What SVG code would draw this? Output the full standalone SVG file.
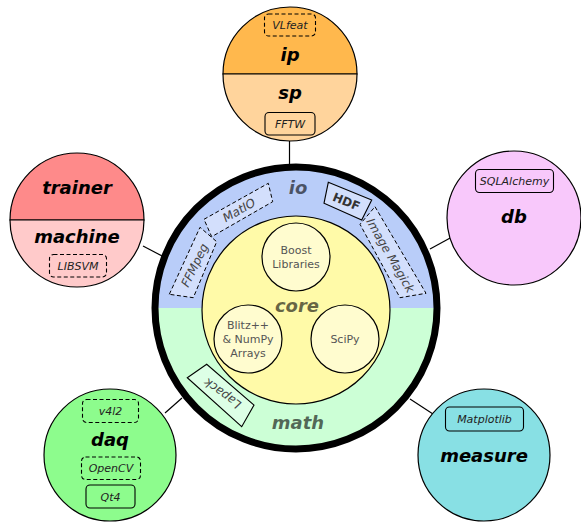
<svg xmlns="http://www.w3.org/2000/svg" width="581" height="522" viewBox="0 0 581 522">
<style>
.n{stroke:#000;stroke-width:1.2}
.t{font-family:"DejaVu Sans",sans-serif;font-weight:bold;font-style:italic;font-size:18px;text-anchor:middle;fill:#000}
.rl{font-family:"DejaVu Sans",sans-serif;font-weight:bold;font-style:italic;font-size:18px;text-anchor:middle;fill:#000;fill-opacity:0.6}
.lib{font-family:"DejaVu Sans",sans-serif;font-style:italic;font-size:11px;text-anchor:middle;fill:#222}
.rlib{font-family:"DejaVu Sans",sans-serif;font-style:italic;font-size:12px;text-anchor:middle;fill:#444}
.hdf{font-family:"DejaVu Sans",sans-serif;font-weight:bold;font-size:12px;text-anchor:middle;fill:#333}
.in{font-family:"DejaVu Sans",sans-serif;font-size:11px;text-anchor:middle;fill:#555}
.bs{fill:none;stroke:#000;stroke-width:1.1}
.bd{fill:none;stroke:#000;stroke-width:1.1;stroke-dasharray:4 2.5}
.ioBox{fill:#d3dffc;stroke:#000;stroke-width:1;stroke-dasharray:4 2.5}
.c{stroke:#000;stroke-width:1.2}
</style>
<g id="connectors">
<line class="c" x1="289.5" y1="141" x2="289.5" y2="166"/>
<line class="c" x1="143" y1="246" x2="164" y2="257"/>
<line class="c" x1="430" y1="249" x2="452" y2="237"/>
<line class="c" x1="410" y1="399" x2="433" y2="414"/>
<line class="c" x1="165" y1="413" x2="182" y2="398"/>
</g>
<g id="center">
<path d="M155,308 A141,141 0 0 1 437,308 Z" fill="#b9cdf9"/>
<path d="M155,308 A141,141 0 0 0 437,308 Z" fill="#ccffd6"/>
<circle cx="296" cy="310" r="94" fill="#fffaa8" class="n"/>
<circle cx="296" cy="257" r="34" fill="#fffccf" class="n"/>
<circle cx="248" cy="339" r="34" fill="#fffccf" class="n"/>
<circle cx="345" cy="339" r="34" fill="#fffccf" class="n"/>
<text class="in" x="296" y="254">Boost</text>
<text class="in" x="296" y="268">Libraries</text>
<text class="in" x="248" y="329">Blitz++</text>
<text class="in" x="248" y="343">&amp; NumPy</text>
<text class="in" x="248" y="357">Arrays</text>
<text class="in" x="345" y="343">SciPy</text>
<text class="rl" x="298" y="194">io</text>
<text class="rl" x="297" y="312">core</text>
<text class="rl" x="298" y="429">math</text>
<polygon class="ioBox" points="169.3,294.3 200,227.3 216.7,241.7 193.3,297.7"/>
<text class="rlib" transform="translate(194.8,265.3) rotate(-64)" y="4">FFMpeg</text>
<polygon class="ioBox" points="204,219.3 268.3,183.3 272.7,201.7 211.7,236.7"/>
<text class="rlib" transform="translate(239.2,210.3) rotate(-30)" y="4">MatIO</text>
<polygon points="328.3,182.3 371.7,200 361.7,220 324,203.3" fill="#d3dffc" stroke="#000" stroke-width="1.1"/>
<text class="hdf" transform="translate(346.4,201.4) rotate(22)" y="4.5">HDF</text>
<polygon class="ioBox" points="375,206.7 426,293.3 400,297.7 360,224.3"/>
<text class="rlib" transform="translate(390.3,255.5) rotate(60)" y="4">Image Magick</text>
<polygon points="187.3,377.7 206.7,364.3 254,405 241.7,426.7" fill="#ddffe6" stroke="#000" stroke-width="1.1"/>
<text class="rlib" transform="translate(222.4,393.4) rotate(216)" y="4">Lapack</text>
<circle cx="296" cy="308" r="141" fill="none" stroke="#000" stroke-width="7"/>
</g>
<g id="ip-sp">
<path d="M223,74 A67,67 0 0 1 357,74 Z" fill="#ffb84d" class="n"/>
<path d="M223,74 A67,67 0 0 0 357,74 Z" fill="#ffd49c" class="n"/>
<text class="t" x="290" y="61">ip</text>
<text class="t" x="290" y="99">sp</text>
<rect class="bd" x="264.5" y="14" width="51" height="22" rx="4"/>
<text class="lib" x="290" y="29">VLfeat</text>
<rect class="bs" x="265" y="112.5" width="50" height="22.5" rx="4"/>
<text class="lib" x="290" y="128">FFTW</text>
</g>
<g id="trainer-machine">
<path d="M10,220 A67,67 0 0 1 144,220 Z" fill="#fe8a8a" class="n"/>
<path d="M10,220 A67,67 0 0 0 144,220 Z" fill="#ffcaca" class="n"/>
<text class="t" x="77" y="194">trainer</text>
<text class="t" x="77" y="243">machine</text>
<rect class="bd" x="49.5" y="254.5" width="57" height="22.5" rx="4"/>
<text class="lib" x="78" y="270">LIBSVM</text>
</g>
<g id="db">
<circle cx="514" cy="218" r="67" fill="#f8c8fb" class="n"/>
<rect class="bs" x="475.5" y="169.5" width="78" height="23" rx="4"/>
<text class="lib" x="514.5" y="185">SQLAlchemy</text>
<text class="t" x="514" y="223">db</text>
</g>
<g id="measure">
<circle cx="484" cy="455" r="66" fill="#88e0e4" class="n"/>
<rect class="bs" x="445.5" y="407" width="78" height="24" rx="4"/>
<text class="lib" x="484.5" y="423">Matplotlib</text>
<text class="t" x="484" y="462">measure</text>
</g>
<g id="daq">
<circle cx="110" cy="455" r="66" fill="#8dfc8d" class="n"/>
<rect class="bd" x="82.5" y="399.5" width="56" height="23" rx="4"/>
<text class="lib" x="110.5" y="415">v4l2</text>
<text class="t" x="110" y="446">daq</text>
<rect class="bd" x="81.5" y="457" width="59" height="22.5" rx="4"/>
<text class="lib" x="111" y="472">OpenCV</text>
<rect class="bs" x="86" y="485" width="49" height="23" rx="4"/>
<text class="lib" x="110.5" y="501">Qt4</text>
</g>
</svg>
